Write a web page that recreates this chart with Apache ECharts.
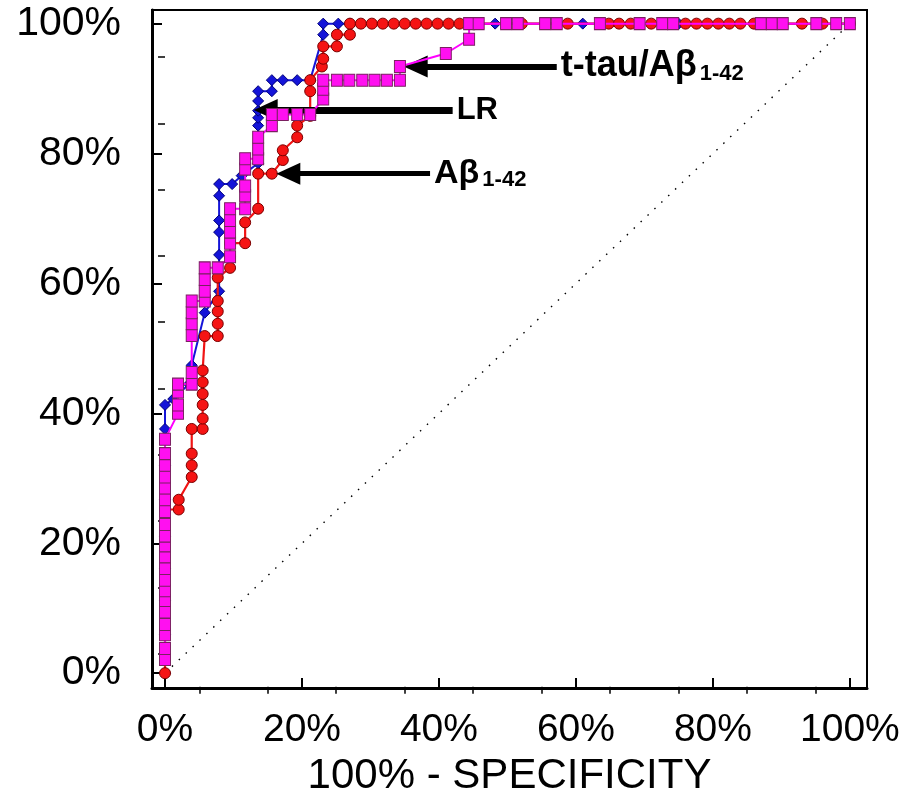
<!DOCTYPE html>
<html><head><meta charset="utf-8">
<script src="https://cdn.jsdelivr.net/npm/echarts@6/dist/echarts.min.js"></script>
<style>html,body{margin:0;padding:0;background:#fff}#c{width:907px;height:802px}</style>
</head><body><div id="c"></div>
<script>
// ---- data (percent) ----
const xTickValues = [0, 20, 40, 60, 80, 100];
const yTickValues = [0, 20, 40, 60, 80, 100];
const minorTickValues = [5, 15, 25, 35, 45, 55, 65, 75, 85, 95];

// LR (blue diamonds)
const lrPoints = [
  [0,0],[0,5.9],[0,11.2],[0,16.1],[0,21.1],[0,26.7],[0,32.0],[0,37.6],[0,41.3],[1.2,42.2],[3.5,44.5],
  [3.9,47.4],[5.8,55.5],[7.9,58.8],[7.9,64.4],[7.9,67.9],[7.9,69.7],[7.9,73.5],[7.9,75.3],[9.8,75.3],
  [11.2,76.6],[13.6,78.5],[13.6,84.3],[13.6,85.5],[13.6,86.6],[13.6,88.1],[13.6,89.6],[15.6,89.6],
  [15.6,91.3],[17.2,91.3],[19.3,91.3],[21.2,91.3],[23.1,98.3],[23.1,100],[25.3,100],[27.0,100],
  [48.2,100],[61.0,100],[75.0,100],[90.0,100],[100,100]
];
// Abeta 1-42 (red circles)
const abPoints = [
  [0,0],[0,25.2],[2.0,25.2],[2.0,26.7],[3.9,30.2],[3.9,32.0],[3.9,33.8],[3.9,37.6],[5.5,37.6],[5.5,39.2],
  [5.5,41.3],[5.5,43.0],[5.5,44.8],[5.5,46.6],[5.8,51.9],[7.7,51.9],[7.7,53.8],[7.7,55.7],[7.7,57.3],
  [7.7,60.9],[9.5,62.4],[9.5,64.1],[9.5,66.2],[11.7,66.2],[11.7,69.4],[13.6,71.5],[13.6,76.9],[15.6,76.9],
  [17.2,79.0],[17.2,80.5],[19.3,82.5],[19.3,84.3],[21.2,85.8],[21.2,89.6],[21.2,91.3],[22.9,93.4],
  [23.1,94.6],[23.1,96.5],[25.1,96.5],[25.1,98.3],[27.0,98.3],[27.0,100],[28.6,100],[30.2,100],[31.8,100],
  [33.4,100],[35.0,100],[36.6,100],[38.2,100],[39.8,100],[41.4,100],[43.0,100],[52.1,100],[58.8,100],
  [64.8,100],[66.3,100],[68.0,100],[71.0,100],[76.0,100],[77.6,100],[79.2,100],[80.8,100],[82.4,100],
  [84.0,100],[86.0,100],[93.0,100],[96.0,100],[100,100]
];
// t-tau / Abeta 1-42 (magenta squares)
const ratioPoints = [
  [0,2.1],[0,3.8],[0,5.9],[0,7.5],[0,9.4],[0,11.2],[0,12.7],[0,14.3],[0,16.1],[0,17.9],[0,19.6],[0,21.1],
  [0,22.9],[0,24.9],[0,26.7],[0,28.5],[0,30.2],[0,32.0],[0,33.8],[0,36.0],[1.9,40.0],[1.9,41.3],[1.9,43.3],
  [1.9,44.5],[3.9,44.5],[3.9,46.3],[3.9,52.0],[3.9,53.8],[3.9,55.5],[3.9,57.3],[5.8,57.3],[5.8,58.8],
  [5.8,60.6],[5.8,62.4],[7.7,62.4],[9.5,64.1],[9.5,66.2],[9.5,67.9],[9.5,69.7],[9.5,71.5],[11.7,71.5],
  [11.7,73.5],[11.7,75.0],[11.7,77.6],[11.7,79.2],[13.6,79.2],[13.6,80.7],[13.6,82.5],[15.6,84.3],
  [15.6,86.0],[17.2,86.0],[19.3,86.0],[21.2,86.0],[23.1,88.4],[23.1,89.9],[23.1,91.3],[25.1,91.3],
  [26.9,91.3],[28.8,91.3],[30.6,91.3],[32.4,91.3],[34.3,91.3],[34.3,93.4],[41.0,95.4],[44.4,97.6],
  [44.4,100],[45.8,100],[49.8,100],[51.5,100],[55.5,100],[57.2,100],[63.5,100],[69.3,100],[72.6,100],
  [74.2,100],[87.0,100],[88.6,100],[90.2,100],[95.1,100],[98.0,100],[100,100]
];
const chancePoints = [[0,0],[100,100]];

// annotation arrows (data percent) + label text
const arrowTTau = { from: [36.6, 93.4], to: [57.2, 93.4], text: 't-tau/Aβ{s|1-42}' };
const arrowLR   = { from: [14.7, 86.7], to: [42.0, 86.7], text: 'LR' };
const arrowAb   = { from: [18.0, 76.9], to: [38.7, 76.9], text: 'Aβ{s|1-42}' };

// ---- chart ----
const FONT = '"Liberation Sans", Arial, Helvetica, sans-serif';
const chart = echarts.init(document.getElementById('c'));
const gridBox = { left: 152, top: 10, right: 40, bottom: 100 };
const XMIN = -1.9, XMAX = 102.5, YMIN = -2.3, YMAX = 102.1;

function arrowItem(a, width, fs) {
  return [{ coord: a.from, lineStyle: { width: width },
            label: { formatter: a.text, fontSize: fs } },
          { coord: a.to }];
}

const option = {
  animation: false,
  backgroundColor: '#fff',
  grid: [
    Object.assign({ show: true, borderColor: '#000', borderWidth: 2, backgroundColor: 'transparent' }, gridBox),
    Object.assign({ show: false }, gridBox)
  ],
  xAxis: [{
    type: 'value', gridIndex: 0, min: XMIN, max: XMAX, position: 'bottom',
    splitLine: { show: false },
    axisLine: { show: true, onZero: false, lineStyle: { color: '#000', width: 3 } },
    axisTick: { show: true, inside: true, length: 10, customValues: xTickValues, lineStyle: { color: '#000', width: 2 } },
    axisLabel: { customValues: xTickValues, formatter: '{value}%', fontSize: 39, color: '#000', fontFamily: FONT, margin: 23 },
    name: '100% - SPECIFICITY', nameLocation: 'middle', nameGap: 62,
    nameTextStyle: { fontSize: 42, color: '#000', fontFamily: FONT }
  }, {
    type: 'value', gridIndex: 1, min: XMIN, max: XMAX, position: 'bottom',
    splitLine: { show: false }, axisLine: { show: false },
    axisTick: { show: true, inside: false, length: 7, customValues: minorTickValues, lineStyle: { color: '#000', width: 1.5 } },
    axisLabel: { show: false }
  }],
  yAxis: [{
    type: 'value', gridIndex: 0, min: YMIN, max: YMAX, position: 'left',
    splitLine: { show: false },
    axisLine: { show: true, onZero: false, lineStyle: { color: '#000', width: 3 } },
    axisTick: { show: true, inside: true, length: 10, customValues: yTickValues, lineStyle: { color: '#000', width: 2 } },
    axisLabel: { customValues: yTickValues, formatter: '{value}%', fontSize: 41, color: '#000', fontFamily: FONT, margin: 31, padding: [7, 0, 0, 0] }
  }, {
    type: 'value', gridIndex: 1, min: YMIN, max: YMAX, position: 'left',
    splitLine: { show: false }, axisLine: { show: false },
    axisTick: { show: true, inside: false, length: 7, customValues: minorTickValues, lineStyle: { color: '#000', width: 1.5 } },
    axisLabel: { show: false }
  }],
  series: [
    {
      name: 'chance', type: 'line', data: chancePoints, symbol: 'none', z: 1,
      lineStyle: { color: '#000', width: 1.4, type: [1.5, 8] }, silent: true
    },
    {
      name: 'LR', type: 'line', data: lrPoints, z: 3,
      symbol: 'diamond', symbolSize: 11, showSymbol: true,
      lineStyle: { color: '#1414d8', width: 2 },
      itemStyle: { color: '#1414d8', borderColor: '#00007a', borderWidth: 1 }
    },
    {
      name: 'Aβ1-42', type: 'line', data: abPoints, z: 4,
      symbol: 'circle', symbolSize: 11, showSymbol: true,
      lineStyle: { color: '#f01414', width: 2.2 },
      itemStyle: { color: '#f51414', borderColor: '#7a0000', borderWidth: 1 }
    },
    {
      name: 't-tau/Aβ1-42', type: 'line', data: ratioPoints, z: 5,
      symbol: 'rect', symbolSize: [11, 12], showSymbol: true,
      lineStyle: { color: '#ff00ff', width: 2 },
      itemStyle: { color: '#ff10f0', borderColor: '#7a2060', borderWidth: 1 }
    },
    {
      name: 'annotations', type: 'line', data: [], z: 10, silent: true,
      markLine: {
        silent: true, animation: false,
        symbol: ['triangle', 'none'], symbolSize: [22, 24],
        lineStyle: { color: '#000', type: 'solid', width: 6 },
        label: {
          show: true, position: 'end', distance: 4, color: '#000', fontFamily: FONT,
          fontWeight: 'bold', fontSize: 34,
          rich: { s: { fontSize: 22, fontWeight: 'bold', fontFamily: FONT, color: '#000', lineHeight: 8, verticalAlign: 'bottom', padding: [0, 0, 0, 3] } }
        },
        data: [
          arrowItem(arrowTTau, 6, 36),
          arrowItem(arrowLR, 7, 31),
          arrowItem(arrowAb, 5, 34)
        ]
      }
    }
  ]
};
chart.setOption(option);
</script>
</body></html>
